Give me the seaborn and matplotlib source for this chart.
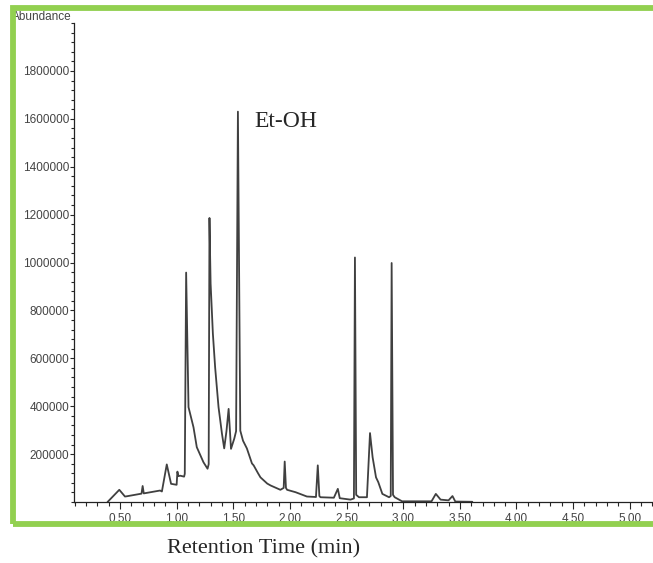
import matplotlib
matplotlib.use("Agg")
import matplotlib.pyplot as plt
import matplotlib.patches as patches
from matplotlib.ticker import MultipleLocator, FormatStrFormatter
import seaborn as sns
import pandas as pd

# chromatogram trace (retention time in min, abundance)
rt_min = [0.39, 0.494, 0.544, 0.56, 0.69, 0.70, 0.71, 0.854, 0.87, 0.913,
          0.951, 1.000, 1.007, 1.015, 1.031, 1.066, 1.072, 1.084, 1.105, 1.149,
          1.178, 1.237, 1.273, 1.283, 1.290, 1.294, 1.300, 1.32, 1.34, 1.37,
          1.40, 1.42, 1.44, 1.459, 1.48, 1.509, 1.525, 1.541, 1.562, 1.586,
          1.62, 1.665, 1.68, 1.72, 1.74, 1.80, 1.83, 1.916, 1.945, 1.954,
          1.965, 1.975, 2.05, 2.15, 2.23, 2.246, 2.26, 2.27, 2.388, 2.423,
          2.44, 2.535, 2.565, 2.574, 2.585, 2.61, 2.68, 2.707, 2.73, 2.76,
          2.78, 2.816, 2.875, 2.89, 2.898, 2.91, 2.925, 2.99, 3.25, 3.288,
          3.33, 3.40, 3.435, 3.46, 3.61]
abundance = [0, 51000, 23000, 24000, 35000, 67000, 36000, 48000, 44000, 157000,
             76000, 72000, 127000, 108000, 110000, 106000, 118000, 958000, 396000, 312000,
             229000, 166000, 139000, 158000, 1186000, 1071000, 912000, 703000, 562000, 396000,
             286000, 224000, 296000, 389000, 222000, 265000, 296000, 1630000, 298000, 256000,
             224000, 161000, 153000, 119000, 103000, 77000, 69000, 51000, 59000, 169000,
             59000, 51000, 41000, 23000, 21000, 153000, 25000, 20000, 18000, 55000,
             16000, 10000, 15000, 1021000, 30000, 20000, 20000, 288000, 187000, 103000,
             83000, 34000, 20000, 25000, 998000, 30000, 20000, 3000, 3000, 34000,
             10000, 7000, 25000, 2000, 1000]

y_ticks = [200000, 400000, 600000, 800000, 1000000, 1200000, 1400000, 1600000, 1800000]

df = pd.DataFrame({"rt": rt_min, "abundance": abundance})

sns.set_style("ticks")
plt.rcParams['font.family'] = ['Liberation Sans', 'DejaVu Sans']

fig = plt.figure(figsize=(6.53, 5.63), dpi=100)
ax = fig.add_axes([0.1133, 0.1083, 0.8867, 0.8508])

sns.lineplot(data=df, x="rt", y="abundance", sort=False, estimator=None,
             color="#404040", lw=1.3, ax=ax)

ax.set_xlim(0.094, 5.205)
ax.set_ylim(0, 2000000)
ax.set_xticks([v / 2 for v in range(1, 11)])
ax.xaxis.set_minor_locator(MultipleLocator(0.1))
ax.xaxis.set_major_formatter(FormatStrFormatter('%.2f'))
ax.set_yticks(y_ticks)
ax.set_yticklabels([str(v) for v in y_ticks])
ax.yaxis.set_minor_locator(MultipleLocator(40000))

ax.tick_params(axis='x', which='major', length=5, width=0.8, pad=3, labelsize=8.5, labelcolor='#444444')
ax.tick_params(axis='x', which='minor', length=3, width=0.8)
ax.tick_params(axis='y', which='major', length=3, width=0.8, pad=0.5, labelsize=8.5, labelcolor='#444444')
ax.tick_params(axis='y', which='minor', length=2, width=0.8)
for s in ['left', 'bottom']:
    ax.spines[s].set_linewidth(0.9)
    ax.spines[s].set_color('#222222')
sns.despine(ax=ax)
ax.set_xlabel("")
ax.set_ylabel("")

ax.text(1.683, 1590000, "Et-OH", family='Liberation Serif', fontsize=17, va='center', ha='left')

fig.text(0.403, 0.025, "Retention Time (min)", family='Liberation Serif', fontsize=16,
         ha='center', va='center')
fig.text(72 / 653, 1 - 17 / 563, "Abundance", fontsize=8.5, color='#444444', ha='right', va='center')

# green frame round the plot (drawn over the start of "Abundance")
frame = patches.Rectangle((13 / 653, 39 / 563), 1.05, 515.5 / 563, transform=fig.transFigure,
                          fill=False, edgecolor='#92d050', lw=4.2, clip_on=False, zorder=10)
fig.add_artist(frame)

fig.savefig("out.png", dpi=100)
